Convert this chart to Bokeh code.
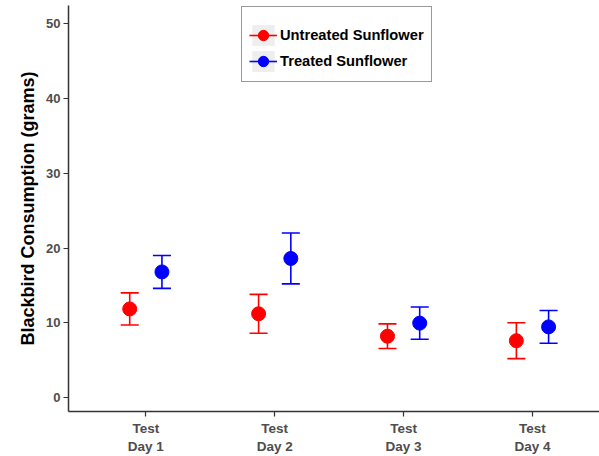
from bokeh.plotting import figure
from bokeh.models import ColumnDataSource, FixedTicker, Legend, LegendItem, Range1d
from bokeh.embed import file_html
from bokeh.resources import INLINE

# Mean blackbird consumption (grams) with standard errors per test day
days = [1, 2, 3, 4]
day_labels = ["Test\nDay 1", "Test\nDay 2", "Test\nDay 3", "Test\nDay 4"]
untreated_mean = [11.85, 11.2, 8.2, 7.6]
untreated_se = [2.15, 2.6, 1.65, 2.4]
treated_mean = [16.8, 18.6, 9.95, 9.45]
treated_se = [2.2, 3.4, 2.15, 2.2]
y_ticks = [0, 10, 20, 30, 40, 50]

FONT = "Liberation Sans"
DODGE = 0.125
CAP = 0.07

p = figure(width=599, height=456, output_backend="svg", toolbar_location=None,
           x_range=Range1d(0.4, 4.52), y_range=Range1d(-1.87, 52.44),
           min_border_left=68, min_border_right=0, min_border_top=5,
           min_border_bottom=44)
p.background_fill_color = "white"
p.border_fill_color = "white"
p.outline_line_color = None
p.xgrid.visible = False
p.ygrid.visible = False


def series(means, ses, offset, color):
    xs = [d + offset for d in days]
    lo = [m - s for m, s in zip(means, ses)]
    hi = [m + s for m, s in zip(means, ses)]
    src = ColumnDataSource(dict(x=xs, y=means, lo=lo, hi=hi,
                                xl=[x - CAP for x in xs], xr=[x + CAP for x in xs]))
    stem = p.segment(x0="x", y0="lo", x1="x", y1="hi", source=src,
                     line_color=color, line_width=1.6)
    p.segment(x0="xl", y0="lo", x1="xr", y1="lo", source=src,
              line_color=color, line_width=1.6)
    p.segment(x0="xl", y0="hi", x1="xr", y1="hi", source=src,
              line_color=color, line_width=1.6)
    pts = p.scatter(x="x", y="y", source=src, size=14, marker="circle",
                    fill_color=color, line_color=color)
    return stem, pts


r_stem, r_pts = series(untreated_mean, untreated_se, -DODGE, "#ff0000")
b_stem, b_pts = series(treated_mean, treated_se, DODGE, "#0000ff")

# grey key background drawn behind each legend glyph (not shown in the plot area)
nan = float("nan")
key_bg = p.quad(left=[nan], right=[nan], top=[nan], bottom=[nan],
                fill_color="#eeeeee", line_color=None)

# axes
for ax in (p.xaxis[0], p.yaxis[0]):
    ax.axis_line_color = "#333333"
    ax.axis_line_width = 1.5
    ax.major_tick_line_color = "#333333"
    ax.major_tick_line_width = 1.2
    ax.major_tick_out = 5
    ax.major_tick_in = 0
    ax.minor_tick_line_color = None
    ax.major_label_text_font = FONT
    ax.major_label_text_font_style = "bold"
    ax.major_label_text_color = "#4d4d4d"

p.yaxis.ticker = FixedTicker(ticks=y_ticks)
p.yaxis.major_label_text_font_size = "13px"
p.yaxis.axis_label = "Blackbird Consumption (grams)"
p.yaxis.axis_label_text_font = FONT
p.yaxis.axis_label_text_font_style = "bold"
p.yaxis.axis_label_text_font_size = "18px"
p.yaxis.axis_label_text_color = "black"
p.yaxis.axis_label_standoff = 5
p.yaxis.major_label_standoff = 3

p.xaxis.ticker = FixedTicker(ticks=days)
p.xaxis.major_label_text_font_size = "13.5px"
p.xaxis.major_label_overrides = {d: lab for d, lab in zip(days, day_labels)}
p.xaxis.major_label_standoff = 4

legend = Legend(items=[
    LegendItem(label="Untreated Sunflower", renderers=[key_bg, r_stem, r_pts]),
    LegendItem(label="Treated Sunflower", renderers=[key_bg, b_stem, b_pts]),
], location=(173, 329))
legend.title = " "
legend.title_text_font_size = "5px"
legend.title_standoff = 2
legend.label_text_font = FONT
legend.label_text_font_style = "bold"
legend.label_text_font_size = "14.7px"
legend.label_text_color = "black"
legend.glyph_width = 28
legend.glyph_height = 26
legend.label_height = 24
legend.label_standoff = 3
legend.spacing = 0
legend.padding = 7
legend.margin = 0
legend.border_line_color = "#333333"
legend.border_line_width = 1.5
legend.background_fill_color = "white"
legend.background_fill_alpha = 1
p.add_layout(legend)

open("out.html", "w").write(file_html(p, INLINE))
